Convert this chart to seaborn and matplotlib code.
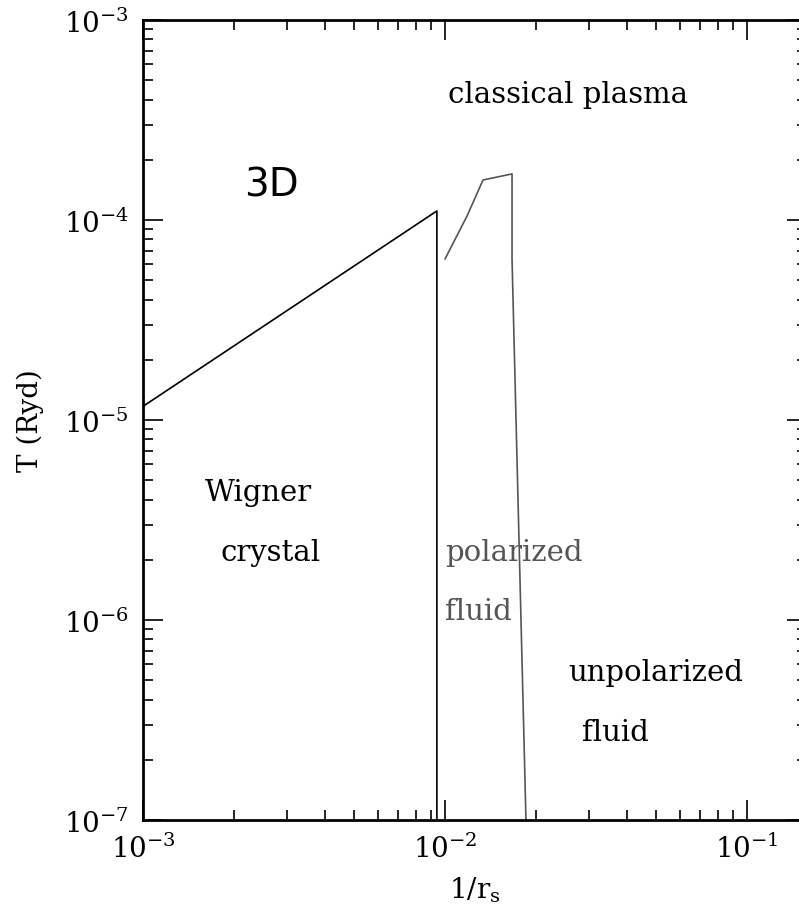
import matplotlib
matplotlib.use("Agg")
import matplotlib.pyplot as plt
import seaborn as sns
import pandas as pd
import numpy as np
from matplotlib.ticker import LogLocator, NullFormatter

sns.set_theme(style="white")
plt.rcParams['font.family'] = ['DejaVu Serif']
plt.rcParams['mathtext.fontset'] = 'dejavuserif'

# Data
wigner_x = [1.0e-3, 0.0094, 0.0094]
wigner_y = [1.17e-5, 1.11e-4, 1.0e-7]

polar_x = [0.0100, 0.01183, 0.01336, 0.01667, 0.01667, 0.01854]
polar_y = [6.38e-5, 1.047e-4, 1.585e-4, 1.70e-4, 6.38e-5, 1.0e-7]

labels = ["classical plasma", "Wigner", "crystal", "polarized", "fluid", "unpolarized", "fluid"]
label_x = [0.0102, 1.6e-3, 1.8e-3, 0.0100, 0.0100, 0.0255, 0.0284]
label_y = [4.27e-4, 4.37e-6, 2.19e-6, 2.19e-6, 1.11e-6, 5.5e-7, 2.75e-7]
label_col = ["black", "black", "black", "#555555", "#555555", "black", "black"]

df_w = pd.DataFrame({"x": wigner_x, "y": wigner_y})
df_p = pd.DataFrame({"x": polar_x, "y": polar_y})

fig = plt.figure(figsize=(7.99, 9.12), dpi=100)
ax = fig.add_axes([143/799, (912-821)/912, (807-143)/799, 800/912])

sns.lineplot(data=df_w, x="x", y="y", sort=False, estimator=None, color="black", lw=1.2, ax=ax)
sns.lineplot(data=df_p, x="x", y="y", sort=False, estimator=None, color="#555555", lw=1.2, ax=ax)

ax.set_xscale("log")
ax.set_yscale("log")
ax.set_xlim(1e-3, 0.158)
ax.set_ylim(1e-7, 1e-3)

ax.xaxis.set_major_locator(LogLocator(base=10, numticks=10))
ax.yaxis.set_major_locator(LogLocator(base=10, numticks=10))
ax.xaxis.set_minor_locator(LogLocator(base=10, subs=np.arange(2, 10), numticks=20))
ax.yaxis.set_minor_locator(LogLocator(base=10, subs=np.arange(2, 10), numticks=20))
ax.xaxis.set_minor_formatter(NullFormatter())
ax.yaxis.set_minor_formatter(NullFormatter())

ax.tick_params(which="both", direction="in", top=True, right=True, bottom=True, left=True,
               color="black", width=1.2, labelsize=20, labelcolor="black")
ax.tick_params(which="major", length=14.4, pad=10)
ax.tick_params(which="minor", length=7.2)

for s in ax.spines.values():
    s.set_color("black")
    s.set_linewidth(2)

ax.set_xlabel(r"$1/\mathrm{r_s}$", fontsize=20, color="black", labelpad=8)
ax.set_ylabel("T (Ryd)", fontsize=20, color="black", labelpad=14)

for t, x, y, c in zip(labels, label_x, label_y, label_col):
    ax.text(x, y, t, color=c, fontsize=21, ha="left", va="center")

ax.text(2.67e-3, 1.51e-4, "3D", fontsize=28, family="DejaVu Sans", color="black", ha="center", va="center")

fig.savefig("out.png", dpi=100)
